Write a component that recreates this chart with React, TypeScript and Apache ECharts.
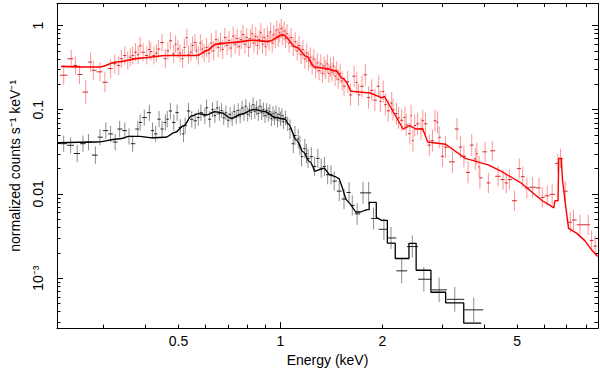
import React, { useEffect, useRef } from 'react';
import * as echarts from 'echarts';

// Axis ranges (keV, normalized counts s^-1 keV^-1)
const xRange = [0.2188, 8.66];
const yRange = [2.55e-4, 1.826];

const xMajorTicks = [1];
const xMinorTicks = [0.3, 0.4, 0.5, 0.6, 0.7, 0.8, 0.9, 2, 3, 4, 5, 6, 7, 8];
const xLabelValues = [0.5, 1, 2, 5];
const xLabelTexts = ['0.5', '1', '2', '5'];

const yMajorTicks = [1, 0.1, 0.01, 0.001];
const yMinorTicks = [
  3e-4, 4e-4, 5e-4, 6e-4, 7e-4, 8e-4, 9e-4,
  2e-3, 3e-3, 4e-3, 5e-3, 6e-3, 7e-3, 8e-3, 9e-3,
  0.02, 0.03, 0.04, 0.05, 0.06, 0.07, 0.08, 0.09,
  0.2, 0.3, 0.4, 0.5, 0.6, 0.7, 0.8, 0.9,
];
const yLabelValues = [1, 0.1, 0.01, 0.001];
const yLabelTexts = ['1', '0.1', '0.01', '10⁻³'];

// Red spectrum: [energy keV, flux, fractional error]
const redLow = [
  [0.229, 0.257, 0.3], [0.241, 0.403, 0.28], [0.248, 0.336, 0.28], [0.255, 0.262, 0.3], [0.266, 0.162, 0.38],
  [0.275, 0.368, 0.3], [0.280, 0.294, 0.3], [0.293, 0.282, 0.3], [0.303, 0.212, 0.32], [0.315, 0.308, 0.3],
  [0.324, 0.352, 0.3], [0.333, 0.336, 0.3], [0.339, 0.403, 0.28], [0.347, 0.440, 0.28], [0.354, 0.385, 0.28],
  [0.360, 0.42, 0.28], [0.366, 0.440, 0.28], [0.373, 0.482, 0.28], [0.380, 0.45, 0.28], [0.385, 0.574, 0.27],
  [0.393, 0.482, 0.28], [0.403, 0.440, 0.28], [0.410, 0.52, 0.28], [0.414, 0.489, 0.28], [0.423, 0.440, 0.28],
  [0.430, 0.47, 0.28], [0.436, 0.526, 0.28], [0.447, 0.629, 0.27], [0.457, 0.403, 0.3], [0.465, 0.50, 0.28],
  [0.473, 0.657, 0.27], [0.484, 0.46, 0.28], [0.490, 0.60, 0.27], [0.498, 0.526, 0.28], [0.505, 0.47, 0.28],
  [0.514, 0.403, 0.3], [0.520, 0.55, 0.28], [0.529, 0.719, 0.27], [0.535, 0.45, 0.28], [0.544, 0.482, 0.28],
  [0.550, 0.58, 0.28], [0.559, 0.629, 0.27], [0.565, 0.50, 0.28], [0.572, 0.44, 0.28], [0.580, 0.62, 0.27],
  [0.587, 0.526, 0.28], [0.595, 0.47, 0.28],
];
const redDense = [
  [0.605, 0.55, 0.3], [0.615, 0.47, 0.3], [0.625, 0.62, 0.3], [0.635, 0.50, 0.3], [0.645, 0.68, 0.3],
  [0.655, 0.55, 0.3], [0.665, 0.63, 0.3], [0.675, 0.52, 0.3], [0.685, 0.72, 0.3], [0.695, 0.58, 0.3],
  [0.705, 0.66, 0.3], [0.715, 0.54, 0.3], [0.725, 0.75, 0.3], [0.735, 0.60, 0.3], [0.745, 0.70, 0.3],
  [0.755, 0.56, 0.3], [0.765, 0.68, 0.3], [0.775, 0.78, 0.3], [0.785, 0.60, 0.3], [0.795, 0.72, 0.3],
  [0.805, 0.55, 0.3], [0.815, 0.70, 0.3], [0.825, 0.80, 0.3], [0.835, 0.62, 0.3], [0.845, 0.74, 0.3],
  [0.855, 0.58, 0.3], [0.865, 0.68, 0.3], [0.875, 0.82, 0.3], [0.885, 0.60, 0.3], [0.895, 0.72, 0.3],
  [0.905, 0.56, 0.3], [0.915, 0.75, 0.3], [0.925, 0.66, 0.3], [0.935, 0.84, 0.3], [0.945, 0.62, 0.3],
  [0.955, 0.78, 0.3], [0.965, 0.70, 0.3], [0.975, 0.88, 0.3], [0.985, 0.72, 0.3], [0.995, 0.82, 0.3],
  [1.005, 0.92, 0.3], [1.015, 0.76, 0.3], [1.025, 0.86, 0.3], [1.035, 0.70, 0.3], [1.045, 0.80, 0.3],
  [1.06, 0.62, 0.3], [1.075, 0.72, 0.3], [1.09, 0.56, 0.3], [1.105, 0.64, 0.3], [1.12, 0.50, 0.3],
  [1.135, 0.58, 0.3], [1.15, 0.45, 0.3], [1.165, 0.52, 0.3], [1.18, 0.40, 0.3], [1.195, 0.47, 0.3],
  [1.21, 0.38, 0.3], [1.225, 0.42, 0.3], [1.24, 0.34, 0.3], [1.255, 0.40, 0.3], [1.27, 0.31, 0.3],
  [1.285, 0.36, 0.3], [1.30, 0.29, 0.3], [1.315, 0.35, 0.3], [1.33, 0.27, 0.3], [1.345, 0.33, 0.3],
  [1.36, 0.30, 0.3], [1.375, 0.35, 0.3], [1.39, 0.27, 0.3], [1.405, 0.32, 0.3], [1.42, 0.28, 0.3],
  [1.435, 0.33, 0.3], [1.45, 0.25, 0.3], [1.465, 0.29, 0.3], [1.48, 0.23, 0.3], [1.50, 0.27, 0.3],
  [1.52, 0.22, 0.3], [1.54, 0.19, 0.3],
];
const redHigh = [
  [1.58, 0.215, 0.35], [1.61, 0.15, 0.35], [1.65, 0.25, 0.35], [1.68, 0.21, 0.35], [1.70, 0.15, 0.35],
  [1.74, 0.19, 0.35], [1.78, 0.26, 0.35], [1.82, 0.14, 0.35], [1.86, 0.17, 0.35], [1.90, 0.13, 0.35],
  [1.95, 0.19, 0.35], [1.97, 0.126, 0.35], [2.01, 0.165, 0.35], [2.04, 0.115, 0.35], [2.08, 0.097, 0.35],
  [2.13, 0.12, 0.35], [2.15, 0.10, 0.35], [2.20, 0.09, 0.35], [2.23, 0.08, 0.35], [2.28, 0.075, 0.35],
  [2.33, 0.081, 0.35], [2.35, 0.066, 0.35], [2.41, 0.052, 0.35], [2.43, 0.085, 0.35], [2.46, 0.043, 0.35],
  [2.49, 0.065, 0.35], [2.54, 0.068, 0.35], [2.60, 0.059, 0.35], [2.63, 0.074, 0.35], [2.68, 0.068, 0.35],
  [2.75, 0.038, 0.35], [2.81, 0.043, 0.35], [2.86, 0.074, 0.35], [2.91, 0.071, 0.35], [2.94, 0.047, 0.35],
  [3.01, 0.028, 0.35], [3.07, 0.036, 0.35], [3.22, 0.024, 0.35], [3.32, 0.059, 0.35], [3.40, 0.036, 0.35],
  [3.48, 0.028, 0.35], [3.58, 0.018, 0.35], [3.67, 0.038, 0.35], [3.76, 0.026, 0.35], [3.80, 0.030, 0.35],
  [3.86, 0.021, 0.35], [3.88, 0.0155, 0.35], [4.02, 0.0316, 0.32], [4.11, 0.0135, 0.32], [4.22, 0.0325, 0.32],
  [4.39, 0.0162, 0.32], [4.54, 0.0148, 0.32], [4.64, 0.0135, 0.32], [4.74, 0.0148, 0.32], [4.91, 0.0083, 0.32],
  [5.07, 0.0200, 0.32], [5.19, 0.0160, 0.32], [5.34, 0.0118, 0.32], [5.55, 0.0120, 0.32], [5.80, 0.0118, 0.32],
  [5.93, 0.0091, 0.32], [6.13, 0.0095, 0.32], [6.34, 0.0099, 0.32], [6.59, 0.0231, 0.3], [6.71, 0.0264, 0.3],
  [6.93, 0.0108, 0.32], [7.17, 0.0046, 0.32], [7.33, 0.0049, 0.32], [7.66, 0.0043, 0.32], [8.10, 0.0043, 0.32],
  [8.29, 0.0028, 0.32], [8.50, 0.0024, 0.32],
];
// Red model: smooth part (low energy) and stepped part (high energy)
const redModelSoft = [
  [0.225, 0.327], [0.271, 0.321], [0.290, 0.321], [0.331, 0.371], [0.386, 0.410], [0.463, 0.440],
  [0.566, 0.440], [0.605, 0.503], [0.646, 0.601], [0.724, 0.629], [0.828, 0.669], [0.921, 0.646],
  [1.016, 0.775], [1.116, 0.550], [1.193, 0.430], [1.261, 0.321], [1.363, 0.308], [1.458, 0.289],
  [1.523, 0.236], [1.612, 0.166],
];
const redModelHard = [
  [1.612, 0.166], [1.842, 0.158], [1.991, 0.138], [2.027, 0.144], [2.106, 0.110],
  [2.301, 0.059], [2.407, 0.0646], [2.51, 0.059], [2.63, 0.0594], [2.72, 0.0413], [3.074, 0.0389],
  [3.513, 0.0264], [4.108, 0.0221], [4.489, 0.0185], [5.133, 0.0135], [5.932, 0.0083], [6.201, 0.00745],
  [6.412, 0.00682], [6.46, 0.0083], [6.60, 0.0083], [6.63, 0.0264], [6.75, 0.0264], [6.80, 0.0149],
  [6.93, 0.0079], [7.09, 0.0039], [7.50, 0.0034], [7.93, 0.00277], [8.29, 0.00217], [8.65, 0.0018],
];

// Black spectrum: [energy keV, flux, fractional error]
const blackLow = [
  [0.229, 0.0395, 0.25], [0.240, 0.0378, 0.25], [0.251, 0.0302, 0.27], [0.261, 0.0395, 0.25], [0.271, 0.0413, 0.25],
  [0.284, 0.0289, 0.27], [0.293, 0.0472, 0.25], [0.305, 0.0565, 0.25], [0.315, 0.0516, 0.25], [0.325, 0.0413, 0.25],
  [0.335, 0.059, 0.25], [0.347, 0.0565, 0.25], [0.357, 0.0482, 0.25], [0.366, 0.0395, 0.25], [0.379, 0.059, 0.25],
  [0.385, 0.0706, 0.25], [0.396, 0.0807, 0.25], [0.410, 0.0923, 0.25], [0.419, 0.0565, 0.25], [0.428, 0.0516, 0.25],
  [0.438, 0.0771, 0.25], [0.447, 0.059, 0.25], [0.457, 0.0706, 0.25], [0.463, 0.0771, 0.25], [0.473, 0.0966, 0.25],
  [0.484, 0.0706, 0.25], [0.495, 0.0923, 0.25], [0.506, 0.0618, 0.25], [0.517, 0.0516, 0.25], [0.523, 0.0646, 0.25],
  [0.535, 0.0966, 0.25], [0.547, 0.0771, 0.25], [0.560, 0.0739, 0.25], [0.572, 0.0807, 0.25], [0.582, 0.0923, 0.25],
  [0.598, 0.0845, 0.25], [0.605, 0.1055, 0.25], [0.618, 0.0771, 0.25],
];
const blackDense = [
  [0.63, 0.10, 0.22], [0.64, 0.085, 0.22], [0.65, 0.105, 0.22], [0.66, 0.09, 0.22], [0.67, 0.098, 0.22],
  [0.68, 0.08, 0.22], [0.69, 0.092, 0.22], [0.70, 0.075, 0.22], [0.71, 0.088, 0.22], [0.72, 0.078, 0.22],
  [0.73, 0.095, 0.22], [0.74, 0.082, 0.22], [0.75, 0.098, 0.22], [0.76, 0.084, 0.22], [0.77, 0.105, 0.22],
  [0.78, 0.09, 0.22], [0.79, 0.11, 0.22], [0.80, 0.088, 0.22], [0.81, 0.10, 0.22], [0.82, 0.093, 0.22],
  [0.83, 0.115, 0.22], [0.84, 0.095, 0.22], [0.85, 0.105, 0.22], [0.86, 0.09, 0.22], [0.87, 0.11, 0.22],
  [0.88, 0.092, 0.22], [0.89, 0.10, 0.22], [0.90, 0.085, 0.22], [0.91, 0.098, 0.22], [0.92, 0.088, 0.22],
  [0.93, 0.095, 0.22], [0.94, 0.078, 0.22], [0.95, 0.09, 0.22], [0.96, 0.08, 0.22], [0.97, 0.092, 0.22],
  [0.98, 0.075, 0.22], [0.99, 0.088, 0.22], [1.00, 0.078, 0.22], [1.01, 0.085, 0.22], [1.02, 0.072, 0.22],
  [1.035, 0.080, 0.22], [1.05, 0.068, 0.22],
];
const blackHigh = [
  [1.067, 0.059, 0.3], [1.091, 0.0395, 0.3], [1.103, 0.0494, 0.3], [1.128, 0.045, 0.3], [1.141, 0.0378, 0.3],
  [1.154, 0.0277, 0.3], [1.18, 0.0345, 0.3], [1.193, 0.0302, 0.3], [1.206, 0.0264, 0.3], [1.233, 0.0277, 0.3],
  [1.261, 0.0212, 0.3], [1.289, 0.0264, 0.3], [1.319, 0.0202, 0.3], [1.348, 0.0212, 0.3], [1.378, 0.0169, 0.3],
  [1.41, 0.0169, 0.3], [1.441, 0.0142, 0.3], [1.491, 0.0108, 0.32], [1.54, 0.0087, 0.32], [1.594, 0.0104, 0.32],
  [1.629, 0.0073, 0.32], [1.684, 0.0058, 0.35], [1.753, 0.0103, 0.35], [1.821, 0.0103, 0.35], [1.883, 0.0051, 0.35],
  [2.02, 0.0038, 0.35], [2.12, 0.0030, 0.35], [2.28, 0.00122, 0.4], [2.45, 0.00237, 0.35], [2.65, 0.00097, 0.4],
  [2.94, 0.000725, 0.4], [3.27, 0.00056, 0.4], [3.72, 0.00042, 0.4],
];
// Black model: smooth part and stepped part
const blackModelSoft = [
  [0.2188, 0.0406], [0.2865, 0.0413], [0.3351, 0.0452], [0.3581, 0.0482], [0.383, 0.0482], [0.4186, 0.0464],
  [0.4574, 0.0472], [0.4891, 0.054], [0.5173, 0.0646], [0.547, 0.0845], [0.572, 0.0898], [0.6045, 0.0868],
  [0.639, 0.0948], [0.6683, 0.0923], [0.7145, 0.0792], [0.7638, 0.0882], [0.8348, 0.1008], [0.9029, 0.0948],
  [0.9652, 0.0807], [1.032, 0.0771], [1.055, 0.0675], [1.116, 0.0433], [1.166, 0.0316], [1.219, 0.0242],
  [1.261, 0.0185],
];
const blackModelHard = [
  [1.261, 0.0185], [1.304, 0.0194], [1.348, 0.0202], [1.394, 0.0169], [1.458, 0.0159], [1.491, 0.01507],
  [1.523, 0.01184], [1.559, 0.00868], [1.612, 0.00745], [1.667, 0.0061], [1.723, 0.0061], [1.80, 0.00652],
  [1.827, 0.00652], [1.827, 0.00792], [1.918, 0.00792], [1.918, 0.00526], [1.991, 0.00485], [2.068, 0.00485],
  [2.068, 0.0026], [2.182, 0.0026], [2.182, 0.00171], [2.395, 0.00171], [2.395, 0.00259], [2.515, 0.00259],
  [2.515, 0.00124], [2.781, 0.00124], [2.781, 0.00068], [3.074, 0.00068], [3.074, 0.000508], [3.476, 0.000508],
  [3.476, 0.000292], [3.914, 0.000292],
];

const L = Math.log10;
const X_MIN = L(xRange[0]);
const X_MAX = L(xRange[1]);
const Y_MIN = L(yRange[0]);
const Y_MAX = L(yRange[1]);

function buildErrors(pts: number[][]) {
  const s = [...pts].sort((a, b) => a[0] - b[0]);
  const lx = s.map((p) => L(p[0]));
  return s.map((p, i) => {
    const x = lx[i];
    const left = i > 0 ? (lx[i - 1] + x) / 2 : x - (lx[i + 1] - x) / 2;
    const right = i < s.length - 1 ? (x + lx[i + 1]) / 2 : x + (x - lx[i - 1]) / 2;
    const y = L(p[1]);
    const d = L(1 + p[2]);
    return [x, y, y - d, y + d, Math.max(left, X_MIN), Math.min(right, X_MAX)];
  });
}
const toLog = (pts: number[][]) => pts.map((p) => [L(p[0]), L(p[1])]);

const FONT = 'Liberation Sans, Arial, Helvetica, sans-serif';
const FS = 14;

function labelFmt(values: number[], texts: string[]) {
  return (v: number) => {
    for (let i = 0; i < values.length; i++) {
      if (Math.abs(L(values[i]) - v) < 1e-6) return texts[i];
    }
    return '';
  };
}

function errSeries(data: number[][], vColor: string, hColor: string, z: number) {
  return {
    type: 'custom',
    xAxisIndex: 0,
    yAxisIndex: 0,
    z,
    silent: true,
    data,
    encode: { x: 0, y: 1 },
    renderItem: (params: any, api: any) => {
      const x = api.value(0);
      const y = api.value(1);
      const lo = api.coord([x, api.value(2)]);
      const hi = api.coord([x, api.value(3)]);
      const l = api.coord([api.value(4), y]);
      const r = api.coord([api.value(5), y]);
      return {
        type: 'group',
        children: [
          { type: 'line', shape: { x1: lo[0], y1: lo[1], x2: hi[0], y2: hi[1] }, style: { stroke: vColor, lineWidth: 1 } },
          { type: 'line', shape: { x1: l[0], y1: l[1], x2: r[0], y2: r[1] }, style: { stroke: hColor, lineWidth: 1 } },
        ],
      };
    },
  };
}

function modelSeries(data: number[][], color: string, width: number, smooth: number, z: number) {
  return {
    type: 'line',
    xAxisIndex: 0,
    yAxisIndex: 0,
    z,
    data: toLog(data),
    showSymbol: false,
    silent: true,
    smooth,
    smoothMonotone: 'x',
    lineStyle: { color, width },
  };
}

function xAxisDef(position: string, ticks: number[], len: number, showLine: boolean, labels: boolean) {
  return {
    type: 'value',
    position,
    min: X_MIN,
    max: X_MAX,
    gridIndex: 0,
    axisLine: { show: showLine, onZero: false, lineStyle: { color: '#000', width: 1 } },
    axisTick: { show: true, inside: true, length: len, customValues: ticks.map(L), lineStyle: { color: '#000', width: 1 } },
    axisLabel: labels
      ? { show: true, customValues: xLabelValues.map(L), formatter: labelFmt(xLabelValues, xLabelTexts), margin: 6, color: '#000', fontSize: FS, fontFamily: FONT }
      : { show: false },
    splitLine: { show: false },
    name: labels ? 'Energy (keV)' : '',
    nameLocation: 'middle',
    nameGap: 22,
    nameTextStyle: { color: '#000', fontSize: FS, fontFamily: FONT },
  };
}

function yAxisDef(position: string, ticks: number[], len: number, showLine: boolean, labels: boolean) {
  return {
    type: 'value',
    position,
    min: Y_MIN,
    max: Y_MAX,
    gridIndex: 0,
    axisLine: { show: showLine, onZero: false, lineStyle: { color: '#000', width: 1 } },
    axisTick: { show: true, inside: true, length: len, customValues: ticks.map(L), lineStyle: { color: '#000', width: 1 } },
    axisLabel: labels
      ? { show: true, rotate: 90, customValues: yLabelValues.map(L), formatter: labelFmt(yLabelValues, yLabelTexts), margin: 12, color: '#000', fontSize: FS, fontFamily: FONT }
      : { show: false },
    splitLine: { show: false },
    name: labels ? 'normalized counts s⁻¹ keV⁻¹' : '',
    nameLocation: 'middle',
    nameRotate: 90,
    nameGap: 35,
    nameTextStyle: { color: '#000', fontSize: FS, fontFamily: FONT },
  };
}

export default function App() {
  const ref = useRef<HTMLDivElement>(null);
  useEffect(() => {
    if (!ref.current) return;
    const chart = echarts.init(ref.current, null, { renderer: 'svg' });
    const option: any = {
      animation: false,
      backgroundColor: '#fff',
      grid: { left: 48, right: 2, top: 3.5, bottom: 37, containLabel: false },
      xAxis: [
        xAxisDef('bottom', xMajorTicks, 6, true, true),
        xAxisDef('bottom', xMinorTicks, 3.5, false, false),
        xAxisDef('top', xMajorTicks, 6, true, false),
        xAxisDef('top', xMinorTicks, 3.5, false, false),
      ],
      yAxis: [
        yAxisDef('left', yMajorTicks, 6, true, true),
        yAxisDef('left', yMinorTicks, 3.5, false, false),
        yAxisDef('right', yMajorTicks, 6, true, false),
        yAxisDef('right', yMinorTicks, 3.5, false, false),
      ],
      series: [
        errSeries(buildErrors([...redLow, ...redDense, ...redHigh]), '#ff9494', '#d22a2a', 2),
        modelSeries(redModelSoft, '#ff0000', 1.6, 0.35, 4),
        modelSeries(redModelHard, '#ff0000', 1.4, 0, 4),
        errSeries(buildErrors([...blackLow, ...blackDense, ...blackHigh]), '#8c8c8c', '#222222', 3),
        modelSeries(blackModelSoft, '#000000', 1.4, 0.35, 5),
        modelSeries(blackModelHard, '#000000', 1.3, 0, 5),
      ],
    };
    chart.setOption(option);
    return () => chart.dispose();
  }, []);
  return (
    <div
      ref={ref}
      style={{ position: 'fixed', left: 0, top: 0, width: 600, height: 372, background: '#fff' }}
    />
  );
}
